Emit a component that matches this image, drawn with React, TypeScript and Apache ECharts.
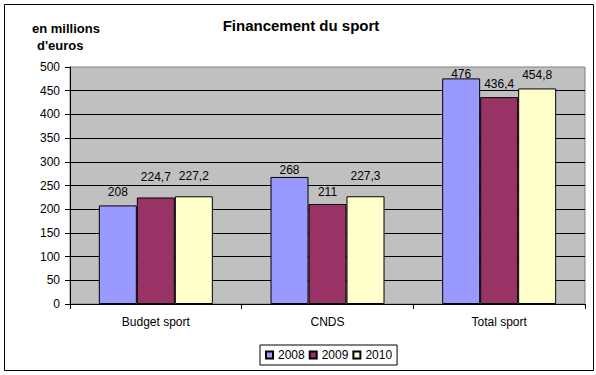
import React, { useEffect, useRef } from "react";
import * as echarts from "echarts";

const categories = ["Budget sport", "CNDS", "Total sport"];
const seriesNames = ["2008", "2009", "2010"];
const values2008 = [208, 268, 476];
const values2009 = [224.7, 211, 436.4];
const values2010 = [227.2, 227.3, 454.8];
const yTicks = { min: 0, max: 500, interval: 50 };
const titleText = "Financement du sport";
const unitLine1 = "en millions";
const unitLine2 = "d'euros";

const colors = ["#9999FF", "#993366", "#FFFFCC"];
const labelDist = [
  [7, 1, -2],
  [14, 6, 7],
  [14, 14, 7],
];
const FONT = 'Arial, "Liberation Sans", sans-serif';

export default function App() {
  const ref = useRef<HTMLDivElement>(null);
  useEffect(() => {
    if (!ref.current) return;
    const chart = echarts.init(ref.current, null, { renderer: "svg" });
    const allValues = [values2008, values2009, values2010];
    const fmt = (v: number) => String(v).replace(".", ",");
    chart.setOption({
      animation: false,
      textStyle: { fontFamily: FONT },
      grid: {
        left: 70,
        top: 67,
        width: 515,
        height: 237,
        show: true,
        backgroundColor: "#C0C0C0",
        borderColor: "#808080",
        borderWidth: 1,
      },
      legend: {
        data: seriesNames,
        left: 260,
        top: 345,
        orient: "horizontal",
        icon: "rect",
        itemWidth: 7,
        itemHeight: 7,
        itemGap: 4,
        padding: [4, 5, 4, 5],
        borderColor: "#000",
        borderWidth: 1,
        textStyle: { fontSize: 12, color: "#000", fontFamily: FONT },
      },
      xAxis: {
        type: "category",
        data: categories,
        axisLine: { show: true, lineStyle: { color: "#000", width: 1 } },
        axisTick: { show: true, length: 5, lineStyle: { color: "#000" } },
        axisLabel: { color: "#000", fontSize: 12, margin: 12, fontFamily: FONT },
        splitLine: { show: false },
      },
      yAxis: {
        type: "value",
        min: yTicks.min,
        max: yTicks.max,
        interval: yTicks.interval,
        axisLine: { show: true, lineStyle: { color: "#000", width: 1 } },
        axisTick: { show: true, length: 5, lineStyle: { color: "#000" } },
        axisLabel: { color: "#000", fontSize: 12, margin: 10, fontFamily: FONT },
        splitLine: { show: true, showMaxLine: false, lineStyle: { color: "#000", width: 1 } },
      },
      series: seriesNames.map((name, si) => ({
        name,
        type: "bar",
        barWidth: 38,
        barGap: "0%",
        itemStyle: { color: colors[si], borderColor: "#000", borderWidth: 1 },
        data: allValues[si].map((v, ci) => ({
          value: v,
          label: {
            show: true,
            position: "top",
            distance: labelDist[si][ci],
            formatter: () => fmt(v),
            color: "#000",
            fontSize: 12,
            fontFamily: FONT,
          },
        })),
      })),
      graphic: [
        {
          type: "rect",
          shape: { x: 4.5, y: 4.5, width: 589, height: 366 },
          style: { fill: "none", stroke: "#000", lineWidth: 1 },
          silent: true,
        },
        {
          type: "text",
          x: 301,
          y: 25,
          style: {
            text: titleText,
            fontSize: 15,
            fontWeight: "bold",
            fontFamily: FONT,
            fill: "#000",
            align: "center",
            verticalAlign: "middle",
          },
        },
        {
          type: "text",
          x: 32,
          y: 28,
          style: {
            text: unitLine1,
            fontSize: 13,
            fontWeight: "bold",
            fontFamily: FONT,
            fill: "#000",
            align: "left",
            verticalAlign: "middle",
          },
        },
        {
          type: "text",
          x: 37,
          y: 45,
          style: {
            text: unitLine2,
            fontSize: 13,
            fontWeight: "bold",
            fontFamily: FONT,
            fill: "#000",
            align: "left",
            verticalAlign: "middle",
          },
        },
      ],
    });
    return () => chart.dispose();
  }, []);
  return (
    <div
      style={{ position: "fixed", left: 0, top: 0, width: 596, height: 375, background: "#fff" }}
    >
      <div ref={ref} style={{ width: 596, height: 375 }} />
    </div>
  );
}
